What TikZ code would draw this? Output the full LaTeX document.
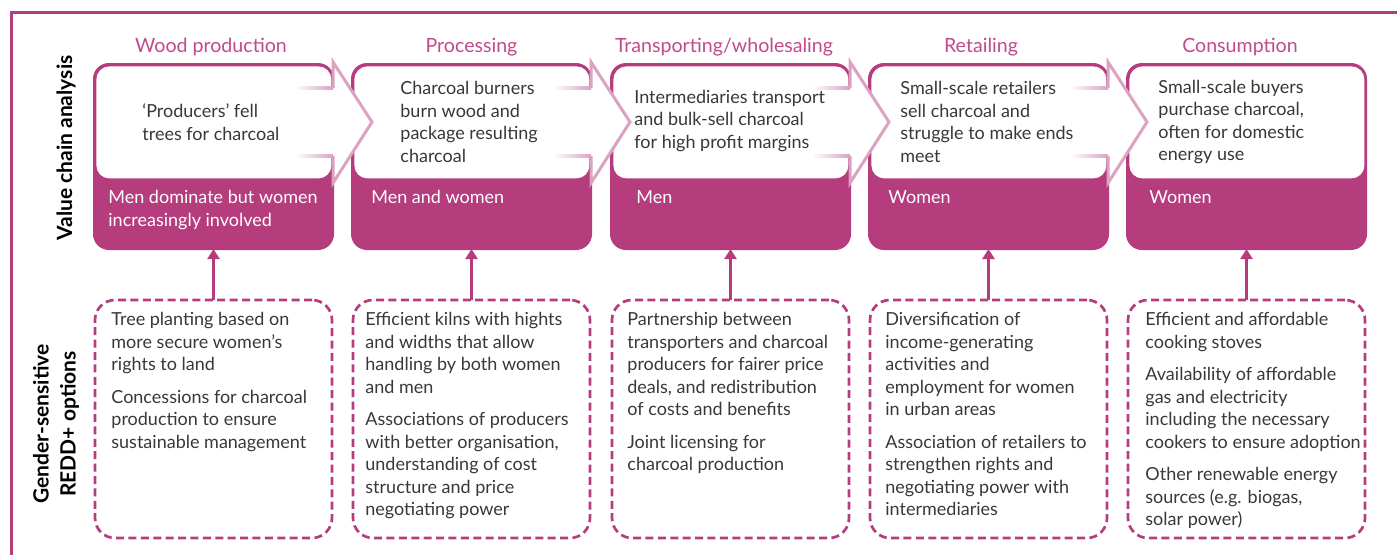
\documentclass[tikz,border=0pt]{standalone}
\usepackage{fontspec}
\setmainfont{Lato}
\usetikzlibrary{arrows.meta,positioning}

\definecolor{chainpink}{HTML}{B53D7E}
\definecolor{titlepink}{HTML}{C04A8C}
\definecolor{palepink}{HTML}{DBA2C2}
\definecolor{bodygray}{HTML}{383838}

\tikzset{
  chainbox/.style={draw=chainpink, fill=chainpink, line width=1pt, rounded corners=7.5pt,
    minimum width=119.5pt, minimum height=92.5pt, inner sep=0pt, outer sep=0pt, anchor=north west},
  chainwhite/.style={fill=white, rounded corners=6.5pt, minimum width=117.5pt,
    minimum height=56pt, inner sep=0pt, anchor=north west},
  optbox/.style={draw=chainpink, line width=1.35pt, dash pattern=on 4pt off 2.2pt, rounded corners=10pt,
    minimum width=118.5pt, minimum height=119pt, inner sep=0pt, outer sep=0pt, anchor=north west},
  steptitle/.style={text=titlepink, font=\fontsize{9.8}{12}\selectfont},
  chaintext/.style={text=bodygray, font=\fontsize{9}{11.25}\selectfont, align=left, anchor=west, inner sep=0pt},
  roletext/.style={text=white, font=\fontsize{9}{11.25}\selectfont, align=left, anchor=north west, inner sep=0pt},
  opttext/.style={text=bodygray, font=\fontsize{9}{11.25}\selectfont, align=left, anchor=north west, inner sep=0pt},
  optarrow/.style={draw=chainpink, line width=1.5pt, -{Triangle[width=6pt,length=5pt]}},
  chevronline/.style={draw=palepink, line width=1.5pt, line join=miter},
  sidelabel/.style={font=\bfseries\fontsize{10.5}{13.5}\selectfont, rotate=90, align=center},
  frameline/.style={draw=chainpink, line width=1.5pt}
}

\begin{document}
\begin{tikzpicture}[x=0.5pt,y=-0.5pt]
  \useasboundingbox (0,0) rectangle (1397,554);

  %value chain boxes
  \node[chainbox] (wood) at (94,64) {};
  \node[chainwhite] (woodin) at (96,66) {};
  \node[chainbox] (proc) at (352,64) {};
  \node[chainwhite] (procin) at (354,66) {};
  \node[chainbox] (trans) at (611,64) {};
  \node[chainwhite] (transin) at (613,66) {};
  \node[chainbox] (retail) at (869,64) {};
  \node[chainwhite] (retailin) at (871,66) {};
  \node[chainbox] (cons) at (1127,64) {};
  \node[chainwhite] (consin) at (1129,66) {};

  %chevrons between the boxes
  \fill[white] (295,88) -- (333,88) -- (333,62) -- (372,122) -- (333,183) -- (333,156) -- (295,156) -- cycle;
  \shade[left color=white, right color=palepink] (295,86.5) rectangle (333,89.5);
  \shade[left color=white, right color=palepink] (295,154.5) rectangle (333,157.5);
  \draw[chevronline] (333,88) -- (333,62) -- (372,122) -- (333,183) -- (333,156);

  \fill[white] (553,88) -- (591,88) -- (591,62) -- (630,122) -- (591,183) -- (591,156) -- (553,156) -- cycle;
  \shade[left color=white, right color=palepink] (553,86.5) rectangle (591,89.5);
  \shade[left color=white, right color=palepink] (553,154.5) rectangle (591,157.5);
  \draw[chevronline] (591,88) -- (591,62) -- (630,122) -- (591,183) -- (591,156);

  \fill[white] (812,88) -- (850,88) -- (850,62) -- (889,122) -- (850,183) -- (850,156) -- (812,156) -- cycle;
  \shade[left color=white, right color=palepink] (812,86.5) rectangle (850,89.5);
  \shade[left color=white, right color=palepink] (812,154.5) rectangle (850,157.5);
  \draw[chevronline] (850,88) -- (850,62) -- (889,122) -- (850,183) -- (850,156);

  \fill[white] (1070,88) -- (1108,88) -- (1108,62) -- (1147,122) -- (1108,183) -- (1108,156) -- (1070,156) -- cycle;
  \shade[left color=white, right color=palepink] (1070,86.5) rectangle (1108,89.5);
  \shade[left color=white, right color=palepink] (1070,154.5) rectangle (1108,157.5);
  \draw[chevronline] (1108,88) -- (1108,62) -- (1147,122) -- (1108,183) -- (1108,156);

  %titles
  \node[steptitle] (woodtitle) at (211,47) {Wood production};
  \node[steptitle] (proctitle) at (471.5,47) {Processing};
  \node[steptitle] (transtitle) at (724,47) {Transporting/wholesaling};
  \node[steptitle] (retailtitle) at (981,47) {Retailing};
  \node[steptitle] (constitle) at (1240,47) {Consumption};

  %what happens at each step
  \node[chaintext] (woodtxt) at (142,122) {‘Producers’ fell\\trees for charcoal};
  \node[chaintext] (proctxt) at (400,122) {Charcoal burners\\burn wood and\\package resulting\\charcoal};
  \node[chaintext] (transtxt) at (634,121) {Intermediaries transport\\and bulk-sell charcoal\\for high profit margins};
  \node[chaintext] (retailtxt) at (900,122) {Small-scale retailers\\sell charcoal and\\struggle to make ends\\meet};
  \node[chaintext] (constxt) at (1158,122) {Small-scale buyers\\purchase charcoal,\\often for domestic\\energy use};

  %who is involved
  \node[roletext] (woodrole) at (108,190) {Men dominate but women\\increasingly involved};
  \node[roletext] (procrole) at (371,190) {Men and women};
  \node[roletext] (transrole) at (636,190) {Men};
  \node[roletext] (retailrole) at (888,190) {Women};
  \node[roletext] (consrole) at (1149,190) {Women};

  %REDD+ options
  \node[optbox] (woodopt) at (95,300) {};
  \node[optbox] (procopt) at (353,300) {};
  \node[optbox] (transopt) at (612,300) {};
  \node[optbox] (retailopt) at (870,300) {};
  \node[optbox] (consopt) at (1128,300) {};

  \node[opttext] at (111,312) {Tree planting based on\\more secure women’s\\rights to land\\[5pt]Concessions for charcoal\\production to ensure\\sustainable management};
  \node[opttext] at (365,312) {Efficient kilns with hights\\and widths that allow\\handling by both women\\and men\\[5pt]Associations of producers\\with better organisation,\\understanding of cost\\structure and price\\negotiating power};
  \node[opttext] at (627,312) {Partnership between\\transporters and charcoal\\producers for fairer price\\deals, and redistribution\\of costs and benefits\\[5pt]Joint licensing for\\charcoal production};
  \node[opttext] at (885,312) {Diversification of\\income-generating\\activities and\\employment for women\\in urban areas\\[5pt]Association of retailers to\\strengthen rights and\\negotiating power with\\intermediaries};
  \node[opttext] at (1145,312) {Efficient and affordable\\cooking stoves\\[5pt]Availability of affordable\\gas and electricity\\including the necessary\\cookers to ensure adoption\\[5pt]Other renewable energy\\sources (e.g. biogas,\\solar power)};

  \draw[optarrow] (woodopt.north) -- (wood.south);
  \draw[optarrow] (procopt.north) -- (proc.south);
  \draw[optarrow] (transopt.north) -- (trans.south);
  \draw[optarrow] (retailopt.north) -- (retail.south);
  \draw[optarrow] (consopt.north) -- (cons.south);

  %row labels
  \node[sidelabel] (chainlabel) at (66,148) {Value chain analysis};
  \node[sidelabel] (optlabel) at (56,424) {Gender-sensitive\\REDD+ options};

  \draw[frameline] (11,570) -- (11,12) -- (1420,12);
\end{tikzpicture}
\end{document}
